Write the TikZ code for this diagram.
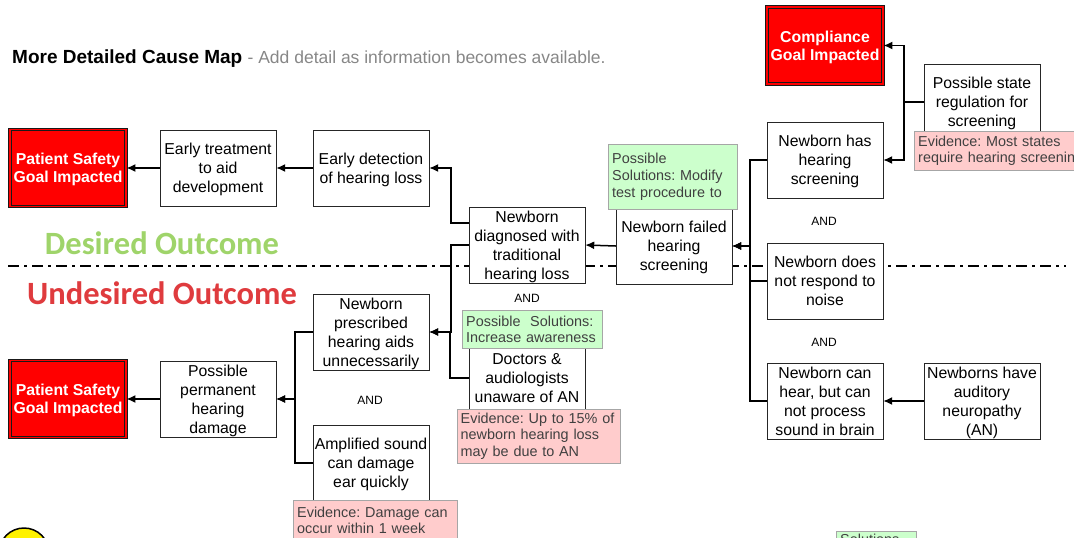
\documentclass[tikz,border=0pt]{standalone}
\usepackage{fontspec}
\setmainfont{Liberation Sans}
\newfontfamily\wordart{Carlito}
\usepackage{tikz}
\usetikzlibrary{arrows.meta}
\frenchspacing

\definecolor{solgreen}{HTML}{CCFFCC}
\definecolor{evipink}{HTML}{FFCCCC}
\definecolor{desgreen}{HTML}{9FD46A}
\definecolor{undred}{HTML}{DF3B3E}

\begin{document}
\begin{tikzpicture}
      [
        x=1pt, y=-1pt,
        cause/.style={draw=black!85, fill=white, minimum width=116pt, minimum height=76pt, inner sep=1pt, text depth=0pt, align=center, font=\fontsize{15.8}{19}\selectfont},
        goal/.style={draw=black!90, line width=0.9pt, double=red, double distance=1.6pt, fill=red, minimum width=116pt, minimum height=77pt, inner sep=1pt, text depth=0pt, align=center, text=white, font=\fontsize{15.8}{18}\selectfont\bfseries},
        note/.style={draw=black!35, anchor=north west, align=left, inner xsep=4pt, inner ysep=0pt, text=black!75, font=\fontsize{14.4}{16.7}\selectfont},
        solution/.style={note, fill=solgreen},
        evidence/.style={note, fill=evipink},
        andlabel/.style={font=\fontsize{12}{14}\selectfont},
        outcome/.style={font=\wordart\bfseries\fontsize{32.5}{36}\selectfont},
        link/.style={line width=1.5pt, ->, >={Latex[length=9pt,width=8pt]}}
      ]
      \useasboundingbox (0,0) rectangle (1074,538);
      \clip (0,0) rectangle (1074,538);
      % title
      \node [anchor=base west, inner sep=0pt] (title) at (12,63) {\fontsize{19}{22}\selectfont\bfseries More Detailed Cause Map \fontsize{17.5}{22}\selectfont\mdseries\color{black!47}- Add detail as information becomes available.};
      % outcome line
      \draw [line width=1.8pt, dash pattern=on 11pt off 5pt on 3pt off 5pt] (8,266) -- (1066,266);
      \node [outcome, text=desgreen] (des) at (162,243) {Desired Outcome};
      \node [outcome, text=undred] (und) at (162,293) {Undesired Outcome};
      % desired chain
      \node [goal] (ps1) at (68,168) {Patient Safety\\Goal Impacted};
      \node [cause] (et) at (218,168) {Early treatment\\to aid\\development};
      \node [cause] (ed) at (371,168) {Early detection\\of hearing loss};
      \node [cause] (dg) at (527,245) {Newborn\\diagnosed with\\traditional\\hearing loss};
      \node [cause] (fs) at (674,246) {Newborn failed\\hearing\\screening};
      % compliance side
      \node [goal] (cg) at (825,45.5) {Compliance\\Goal Impacted};
      \node [cause] (sr) at (982,102) {Possible state\\regulation for\\screening};
      \node [cause] (hs) at (825,160) {Newborn has\\hearing\\screening};
      \node [cause] (nr) at (825,281) {Newborn does\\not respond to\\noise};
      \node [cause] (ch) at (825,401) {Newborn can\\hear, but can\\not process\\sound in brain};
      \node [cause] (an) at (982,401) {Newborns have\\auditory\\neuropathy\\(AN)};
      % undesired chain
      \node [goal] (ps2) at (68,399) {Patient Safety\\Goal Impacted};
      \node [cause] (ph) at (218,399) {Possible\\permanent\\hearing\\damage};
      \node [cause] (pr) at (371,332) {Newborn\\prescribed\\hearing aids\\unnecessarily};
      \node [cause] (as) at (371,463) {Amplified sound\\can damage\\ear quickly};
      \node [cause] (da) at (527,378) {Doctors \&\\audiologists\\unaware of AN};
      % and labels
      \node [andlabel] (and1) at (824,221) {AND};
      \node [andlabel] (and2) at (824,342) {AND};
      \node [andlabel] (and3) at (527,298) {AND};
      \node [andlabel] (and4) at (370,400) {AND};
      % links
      \draw [link] (et.west) -- (ps1.east);
      \draw [link] (ed.west) -- (et.east);
      \draw [link] ([yshift=22pt]dg.west) -- ++(-18,0) |- (ed.east);
      \draw [link] (fs.west) -- (dg.east);
      \draw [link] (hs.west) -- ++(-17,0) |- (fs.east);
      \draw [link] (nr.west) -- ++(-17,0) |- (fs.east);
      \draw [link] (ch.west) -- ++(-17,0) |- (fs.east);
      \draw [link] (sr.west) -- ++(-20,0) |- (cg.east);
      \draw [link] (sr.west) -- ++(-20,0) |- (hs.east);
      \draw [link] (an.west) -- (ch.east);
      \draw [link] (dg.west) -- ++(-18,0) |- (pr.east);
      \draw [link] (da.west) -- ++(-19,0) |- (pr.east);
      \draw [link] (pr.west) -- ++(-18,0) |- (ph.east);
      \draw [link] (as.west) -- ++(-18,0) |- (ph.east);
      \draw [link] (ph.west) -- (ps2.east);
      % solutions and evidence
      \node [solution, text width=121pt, minimum height=65pt] (sol1) at (608,144) {Possible\\Solutions: Modify\\test procedure to};
      \node [solution, text width=132pt, minimum height=38pt] (sol2) at (462,310) {Possible\ \ Solutions:\\Increase awareness};
      \node [evidence, text width=166pt, minimum height=39pt] (ev1) at (914,131) {Evidence: Most states\\require hearing screening};
      \node [evidence, text width=156pt, minimum height=54pt, inner xsep=3.5pt] (ev2) at (457,409) {Evidence: Up to 15\% of\\newborn hearing loss\\may be due to AN};
      \node [evidence, text width=156pt, minimum height=40pt] (ev3) at (293,500) {Evidence: Damage can\\occur within 1 week};
      \node [solution, text width=72pt, inner ysep=3pt] (sol3) at (836,531) {Solutions};
      % marker
      \draw [line width=1.5pt, fill=yellow] (24,553) circle (25pt);
\end{tikzpicture}
\end{document}
